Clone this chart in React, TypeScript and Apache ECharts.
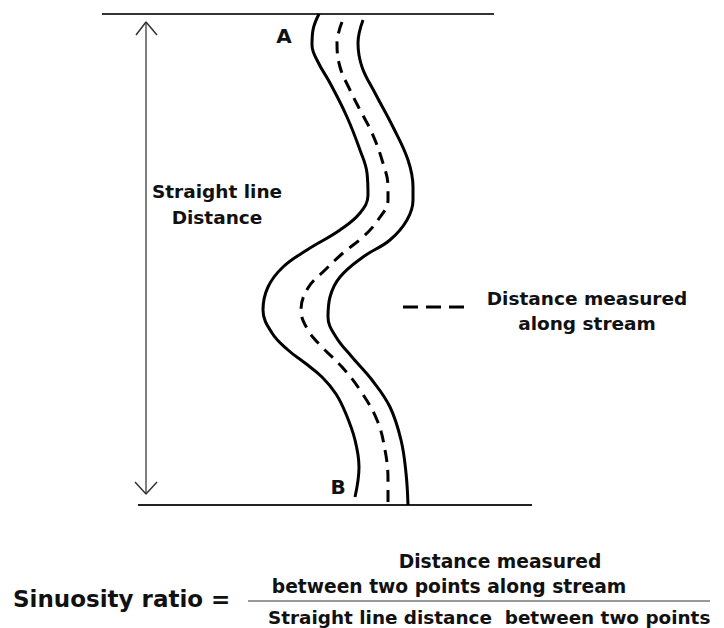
import React, { useEffect, useRef } from "react";
import * as echarts from "echarts";

// Stream geometry (pixel space of the 724x628 diagram, y down)
const leftBank: number[][] = [
  [319, 14], [313, 30], [312, 45], [318, 62], [330, 83], [347, 117], [360, 150], [367, 173],
  [368, 195], [360, 213], [340, 230], [307, 250], [283, 267], [268, 287], [263, 310], [272, 333],
  [288, 350], [305, 363], [322, 377], [336, 394], [346, 414], [355, 440], [359, 467], [355, 497],
];
const centerLine: number[][] = [
  [342, 22], [337, 43], [340, 67], [350, 90], [360, 110], [372, 133], [382, 160], [388, 187],
  [388, 200], [378, 220], [363, 237], [343, 253], [325, 270], [308, 288], [301, 310], [308, 330],
  [322, 347], [342, 367], [360, 390], [377, 420], [385, 450], [388, 480], [388, 504],
];
const rightBank: number[][] = [
  [363, 20], [358, 43], [362, 67], [375, 93], [393, 127], [408, 160], [413, 187], [413, 200],
  [407, 220], [390, 240], [363, 257], [340, 277], [330, 297], [328, 317], [336, 337], [352, 357],
  [372, 380], [390, 407], [401, 440], [406, 473], [408, 505],
];
const topLine: number[][] = [[102, 14], [494, 14]];
const bottomLine: number[][] = [[138, 505], [532, 505]];
const arrowShaft: number[][] = [[146, 23], [146, 493]];
const arrowHeadTop: number[][] = [[136, 35], [146, 22], [157, 35]];
const arrowHeadBottom: number[][] = [[135, 482], [146, 494], [157, 482]];
const legendDash: number[][] = [[403, 307], [465, 307]];
const fractionLine: number[][] = [[248, 601], [710, 601]];

// Texts
const labelA = "A";
const labelB = "B";
const straightLabel = ["Straight line", "Distance"];
const legendLabel = ["Distance measured", "along stream"];
const numeratorLabel = ["Distance measured", "between two points along stream"];
const denominatorLabel = "Straight line distance  between two points";
const ratioLabel = "Sinuosity ratio =";

const FONT = "DejaVu Sans";

export default function App() {
  const ref = useRef<HTMLDivElement>(null);
  useEffect(() => {
    document.body.style.margin = "0";
    if (!ref.current) return;
    const chart = echarts.init(ref.current, null, { renderer: "svg" });
    const line = (data: number[][], opts: any = {}) => ({
      type: "line",
      data,
      symbol: "none",
      silent: true,
      smooth: opts.smooth ?? false,
      lineStyle: {
        color: opts.color ?? "#000",
        width: opts.width ?? 3,
        type: opts.dash ?? "solid",
        cap: "butt",
      },
      z: opts.z ?? 2,
    });
    const txt = (text: string, x: number, y: number, size: number, align = "center") => ({
      type: "text",
      x,
      y,
      silent: true,
      style: {
        text,
        fill: "#111",
        fontFamily: FONT,
        fontWeight: "bold",
        fontSize: size,
        align,
        verticalAlign: "middle",
      },
    });
    chart.setOption({
      animation: false,
      backgroundColor: "#fff",
      grid: { left: 0, right: 0, top: 0, bottom: 0 },
      xAxis: { type: "value", min: 0, max: 724, show: false },
      yAxis: { type: "value", min: 0, max: 628, inverse: true, show: false },
      series: [
        line(topLine, { color: "#333", width: 2 }),
        line(bottomLine, { color: "#222", width: 2 }),
        line(arrowShaft, { color: "#555", width: 1.5 }),
        line(arrowHeadTop, { color: "#333", width: 1.5 }),
        line(arrowHeadBottom, { color: "#333", width: 1.5 }),
        line(leftBank, { smooth: 0.4, width: 3 }),
        line(rightBank, { smooth: 0.4, width: 3 }),
        line(centerLine, { smooth: 0.4, width: 3, dash: [12, 8] }),
        line(legendDash, { width: 3, dash: [15, 8] }),
        line(fractionLine, { color: "#999", width: 2 }),
      ],
      graphic: [
        txt(labelA, 284, 36, 20),
        txt(labelB, 338, 487, 20),
        txt(straightLabel[0], 217, 191, 18.5),
        txt(straightLabel[1], 217, 217, 18.5),
        txt(legendLabel[0], 587, 298, 18.5),
        txt(legendLabel[1], 587, 323, 18.5),
        txt(numeratorLabel[0], 500, 561, 18.7),
        txt(numeratorLabel[1], 449, 586, 18.7),
        txt(denominatorLabel, 268, 617, 18.4, "left"),
        txt(ratioLabel, 13, 599, 23, "left"),
      ],
    });
    return () => chart.dispose();
  }, []);
  return <div ref={ref} style={{ width: 724, height: 628 }} />;
}
